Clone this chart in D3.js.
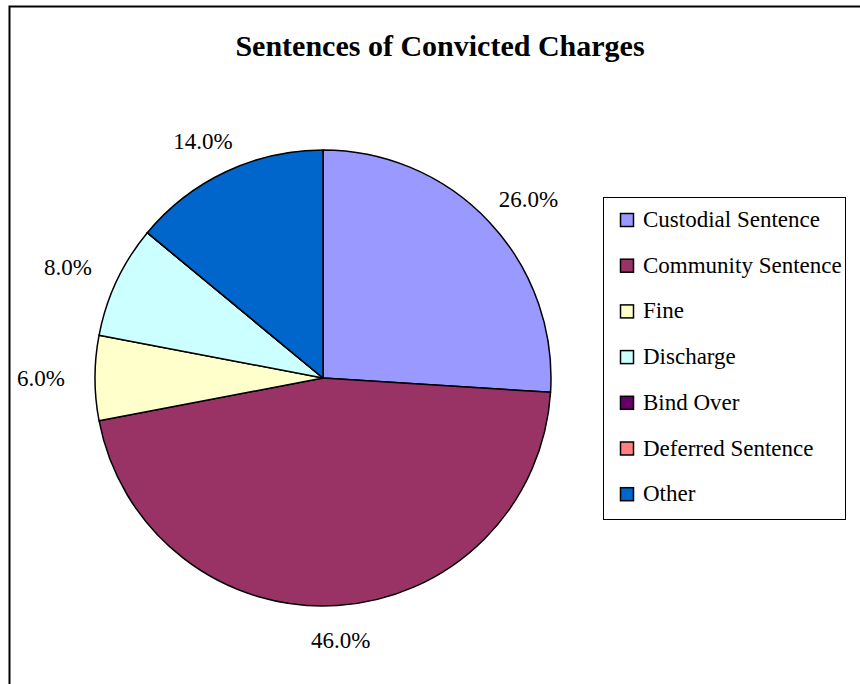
<!DOCTYPE html>
<html>
<head>
<meta charset="utf-8">
<script src="https://cdn.jsdelivr.net/npm/d3@7"></script>
<style>
  body { margin: 0; background: #fff; }
  text { font-family: "Liberation Serif", "Times New Roman", serif; fill: #000; }
</style>
</head>
<body>
<div id="chart"></div>
<script>
var svgWidth = 860;
var svgHeight = 684;

// data
var categories = ["Custodial Sentence", "Community Sentence", "Fine", "Discharge", "Bind Over", "Deferred Sentence", "Other"];
var percents = [26, 46, 6, 8, 0, 0, 14];
var colors = ["#9999FF", "#993366", "#FFFFCC", "#CCFFFF", "#660066", "#FF8080", "#0066CC"];

var cx = 323, cy = 378, radius = 228;

var svg = d3.select("#chart")
    .append("svg")
    .attr("width", svgWidth)
    .attr("height", svgHeight);

// outer chart border (only top and left visible in frame)
svg.append("rect")
    .attr("x", 9.5)
    .attr("y", 6.5)
    .attr("width", 900)
    .attr("height", 800)
    .attr("fill", "none")
    .attr("stroke", "#000")
    .attr("stroke-width", 2);

svg.append("text")
    .attr("x", 440)
    .attr("y", 56)
    .attr("text-anchor", "middle")
    .style("font-size", "30px")
    .style("font-weight", "bold")
    .text("Sentences of Convicted Charges");

var data = categories.map(function(c, i) {
    return { name: c, value: percents[i], color: colors[i] };
});

var pie = d3.pie()
    .sort(null)
    .value(function(d) { return d.value; });

var arc = d3.arc().innerRadius(0).outerRadius(radius);

var chart = svg.append("g")
    .attr("transform", "translate(" + cx + "," + cy + ")");

var slices = pie(data);

chart.selectAll("path")
    .data(slices)
    .enter().append("path")
    .attr("d", arc)
    .attr("fill", function(d) { return d.data.color; })
    .attr("stroke", "#000")
    .attr("stroke-width", 1.5)
    .attr("stroke-linejoin", "round");

// percentage labels outside the pie
var fmt = d3.format(".1f");
chart.selectAll("text.pct")
    .data(slices.filter(function(d) { return d.data.value > 0; }))
    .enter().append("text")
    .attr("class", "pct")
    .attr("text-anchor", "middle")
    .attr("dy", "0.35em")
    .style("font-size", "23px")
    .attr("x", function(d) {
        var a = (d.startAngle + d.endAngle) / 2;
        return Math.sin(a) * (radius + 14) + Math.sin(a) * 40;
    })
    .attr("y", function(d) {
        var a = (d.startAngle + d.endAngle) / 2;
        return -Math.cos(a) * (radius + 14) - Math.cos(a) * 20;
    })
    .text(function(d) { return fmt(d.data.value) + "%"; });

// legend
var legX = 603, legY = 197, legW = 242, legH = 322, rowH = 45.7;
var legend = svg.append("g");

legend.append("rect")
    .attr("x", legX + 0.5)
    .attr("y", legY + 0.5)
    .attr("width", legW)
    .attr("height", legH)
    .attr("fill", "#fff")
    .attr("stroke", "#000")
    .attr("stroke-width", 1);

var rows = legend.selectAll("g.row")
    .data(data)
    .enter().append("g")
    .attr("class", "row")
    .attr("transform", function(d, i) {
        return "translate(" + (legX + 17) + "," + (legY + 30 + i * rowH) + ")";
    });

rows.append("rect")
    .attr("x", 0.5)
    .attr("y", -13.5)
    .attr("width", 13)
    .attr("height", 13)
    .attr("fill", function(d) { return d.color; })
    .attr("stroke", "#000")
    .attr("stroke-width", 1.5);

rows.append("text")
    .attr("x", 23)
    .attr("y", 0)
    .style("font-size", "23px")
    .text(function(d) { return d.name; });
</script>
</body>
</html>
